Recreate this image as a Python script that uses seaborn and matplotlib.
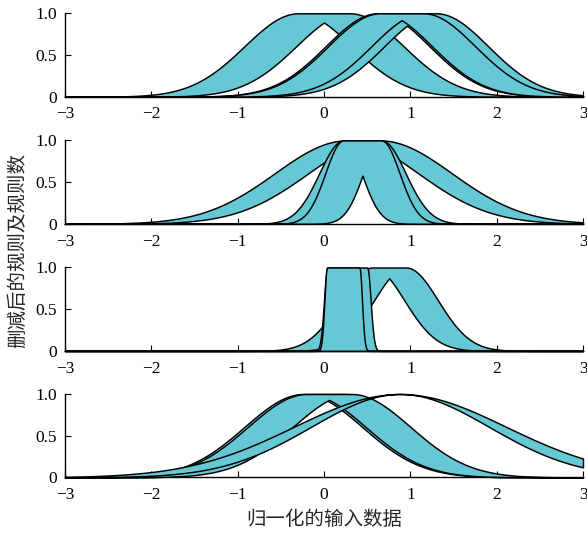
import numpy as np
import matplotlib
matplotlib.use("Agg")
import matplotlib.pyplot as plt
import seaborn as sns

# ---- axis data ----
x_min, x_max = -3.0, 3.0
x_ticks = [-3, -2, -1, 0, 1, 2, 3]
x_ticklabels = ["\u22123", "\u22122", "\u22121", "0", "1", "2", "3"]
y_ticks = [0, 0.5, 1.0]
y_ticklabels = ["0", "0.5", "1.0"]
x_label = "归一化的输入数据"
y_label = "删减后的规则及规则数"

# ---- interval type-2 Gaussian MFs: mean interval [m1, m2], upper / lower sigma ----
# (listed in drawing order; later sets are drawn on top)
# panel 1
p1_m1 = [-0.30, 0.62, 0.65]
p1_m2 = [0.30, 1.30, 1.15]
p1_su = [0.62, 0.60, 0.60]
p1_sl = [0.62, 0.60, 0.60]
# panel 2
p2_m1 = [0.26, 0.225, 0.225]
p2_m2 = [0.65, 0.665, 0.665]
p2_su = [0.83, 0.28, 0.21]
p2_sl = [0.83, 0.28, 0.21]
# panel 3
p3_m1 = [0.56, 0.04, 0.035]
p3_m2 = [0.95, 0.50, 0.41]
p3_su = [0.37, 0.04, 0.03]
p3_sl = [0.37, 0.04, 0.03]
# panel 4
p4_m1 = [-0.24, -0.20, 0.88]
p4_m2 = [0.24, 0.32, 0.88]
p4_su = [0.68, 0.68, 1.23]
p4_sl = [0.68, 0.68, 1.03]

panels = [
    (p1_m1, p1_m2, p1_su, p1_sl),
    (p2_m1, p2_m2, p2_su, p2_sl),
    (p3_m1, p3_m2, p3_su, p3_sl),
    (p4_m1, p4_m2, p4_su, p4_sl),
]

fill_color = "#66c8d4"


def gauss(x, m, s):
    return np.exp(-((x - m) ** 2) / (2.0 * s ** 2))


def upper_mf(x, m1, m2, s):
    y = np.ones_like(x)
    left = x < m1
    right = x > m2
    y[left] = gauss(x[left], m1, s)
    y[right] = gauss(x[right], m2, s)
    return y


def lower_mf(x, m1, m2, s):
    return np.minimum(gauss(x, m1, s), gauss(x, m2, s))


sns.set_theme(style="ticks")
plt.rcParams["font.family"] = ["Liberation Serif", "DejaVu Sans"]
plt.rcParams["axes.unicode_minus"] = True
cjk = ["Noto Sans CJK SC", "DejaVu Sans"]

fig = plt.figure(figsize=(5.87, 5.37), dpi=100)
W, H = 587.0, 537.0
left_px, right_px = 65.0, 583.0
tops_px = [13.3, 140.4, 267.5, 394.0]
h_px = 83.4

axes = []
for top, (m1s, m2s, sus, sls) in zip(tops_px, panels):
    ax = fig.add_axes([left_px / W, 1 - (top + h_px) / H,
                       (right_px - left_px) / W, h_px / H])
    base = np.linspace(x_min, x_max, 1201)
    for m1, m2, su, sl in zip(m1s, m2s, sus, sls):
        x = np.union1d(base, [(m1 + m2) / 2.0, m1, m2])
        up = upper_mf(x, m1, m2, su)
        lo = np.minimum(lower_mf(x, m1, m2, sl), up)
        ax.fill_between(x, lo, up, facecolor=fill_color, edgecolor="black",
                        linewidth=1.05, clip_on=False, zorder=2)
    ax.set_xlim(x_min, x_max)
    ax.set_ylim(0, 1)
    ax.set_xticks(x_ticks)
    ax.set_xticklabels(x_ticklabels)
    ax.set_yticks(y_ticks)
    ax.set_yticklabels(y_ticklabels)
    sns.despine(ax=ax)
    for sp in ["left", "bottom"]:
        ax.spines[sp].set_color("black")
        ax.spines[sp].set_linewidth(1.0)
        ax.spines[sp].set_zorder(3)
    ax.tick_params(direction="in", length=4, width=0.8, colors="black",
                   labelsize=12.5)
    ax.tick_params(axis="x", pad=7)
    ax.tick_params(axis="y", pad=6)
    ax.set_facecolor("white")
    axes.append(ax)

axes[-1].set_xlabel(x_label, family=cjk, fontsize=14, labelpad=4)
fig.text(18 / W, 1 - 250 / H, y_label, rotation=90, ha="center", va="center",
         family=cjk, fontsize=14)

fig.savefig("out.png", dpi=100, facecolor="white")
